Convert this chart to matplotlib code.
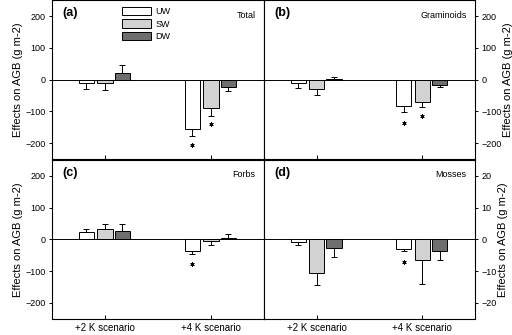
import matplotlib
matplotlib.use("Agg")
import matplotlib.pyplot as plt
import numpy as np
from matplotlib.patches import Patch

plt.rcParams["font.family"] = ["Liberation Sans", "DejaVu Sans"]

SCENARIOS = ["+2 K scenario", "+4 K scenario"]
TREATMENTS = ["UW", "SW", "DW"]
COLORS = ["white", "#d2d2d2", "#6e6e6e"]

PANELS = ["(a)", "(b)", "(c)", "(d)"]
GROUPS = ["Total", "Graminoids", "Forbs", "Mosses"]

# means per treatment, [+2K, +4K]
total_mean = {"UW": [-10, -156], "SW": [-10, -88], "DW": [21, -24]}
total_err = {"UW": [21, 23], "SW": [24, 27], "DW": [25, 12]}
total_star = {"UW": [None, -206], "SW": [None, -141], "DW": [None, None]}

gram_mean = {"UW": [-10, -83], "SW": [-31, -70], "DW": [2, -16]}
gram_err = {"UW": [16, 19], "SW": [18, 15], "DW": [6, 7]}
gram_star = {"UW": [None, -137], "SW": [None, -115], "DW": [None, None]}

forb_mean = {"UW": [23, -37], "SW": [34, -5], "DW": [27, 5]}
forb_err = {"UW": [9, 8], "SW": [15, 12], "DW": [21, 13]}
forb_star = {"UW": [None, -77], "SW": [None, None], "DW": [None, None]}

moss_mean = {"UW": [-0.8, -3.2], "SW": [-10.5, -6.6], "DW": [-2.6, -3.8]}
moss_err = {"UW": [0.9, 0.4], "SW": [4.0, 7.4], "DW": [3.0, 2.8]}
moss_star = {"UW": [None, -7.2], "SW": [None, None], "DW": [None, None]}

MEANS = [total_mean, gram_mean, forb_mean, moss_mean]
ERRS = [total_err, gram_err, forb_err, moss_err]
STARS = [total_star, gram_star, forb_star, moss_star]
YTICKS = [[-200, -100, 0, 100, 200]] * 3 + [[-20, -10, 0, 10, 20]]
YLIMS = [(-250, 250)] * 3 + [(-25, 25)]

YLABEL = "Effects on AGB (g m-2)"
CENTERS = [1, 3]
OFFSETS = [-0.35, 0.0, 0.33]
WIDTH = 0.29

fig = plt.figure(figsize=(5.12, 3.35), dpi=100)
boxes = [
    [0.1016, 0.5254, 0.4140, 0.4736],
    [0.5156, 0.5254, 0.4121, 0.4736],
    [0.1016, 0.0487, 0.4140, 0.4737],
    [0.5156, 0.0487, 0.4121, 0.4737],
]

for i, box in enumerate(boxes):
    ax = fig.add_axes(box)
    means, errs, stars = MEANS[i], ERRS[i], STARS[i]
    for j, tr in enumerate(TREATMENTS):
        xs = np.array(CENTERS) + OFFSETS[j]
        m = np.array(means[tr], dtype=float)
        e = np.array(errs[tr], dtype=float)
        ax.bar(xs, m, WIDTH, color=COLORS[j], edgecolor="black", linewidth=0.7, zorder=2)
        lower = np.where(m < 0, e, 0)
        upper = np.where(m >= 0, e, 0)
        ax.errorbar(xs, m, yerr=[lower, upper], fmt="none", ecolor="black",
                    elinewidth=0.7, capsize=2.2, capthick=0.7, zorder=3)
        for x, s in zip(xs, stars[tr]):
            if s is not None:
                ax.plot(x, s, marker=(6, 2, 0), ms=3, mew=0.6, color="black")
    ax.axhline(0, color="black", lw=0.7, zorder=1)
    ax.set_xlim(0, 4)
    ax.set_ylim(*YLIMS[i])
    ax.set_yticks(YTICKS[i])
    ax.set_xticks(CENTERS)
    ax.tick_params(axis="x", direction="in", length=3, width=0.7, labelsize=7, pad=3)
    ax.tick_params(axis="y", direction="out", length=2.5, width=0.7, labelsize=6.5, pad=2)
    if i < 2:
        ax.set_xticklabels([])
    else:
        ax.set_xticklabels(SCENARIOS)
    if i % 2 == 1:
        ax.yaxis.tick_right()
        ax.yaxis.set_label_position("right")
        ax.set_ylabel(YLABEL, fontsize=8, rotation=90, labelpad=1)
    else:
        ax.set_ylabel(YLABEL, fontsize=8, labelpad=2)
    for sp in ax.spines.values():
        sp.set_linewidth(0.8)
    ax.text(0.05, 0.955, PANELS[i], transform=ax.transAxes, fontsize=9,
            fontweight="bold", ha="left", va="top")
    ax.text(0.96, 0.935, GROUPS[i], transform=ax.transAxes, fontsize=6.5,
            ha="right", va="top")
    if i == 0:
        handles = [Patch(facecolor=c, edgecolor="black", linewidth=0.7) for c in COLORS]
        ax.legend(handles, TREATMENTS, loc="upper left", bbox_to_anchor=(0.3, 1.0),
                  frameon=False, fontsize=6.5, handlelength=3.2, handleheight=1.1,
                  labelspacing=0.35, handletextpad=0.5, borderaxespad=0.3)

fig.savefig("out.png", dpi=100)
